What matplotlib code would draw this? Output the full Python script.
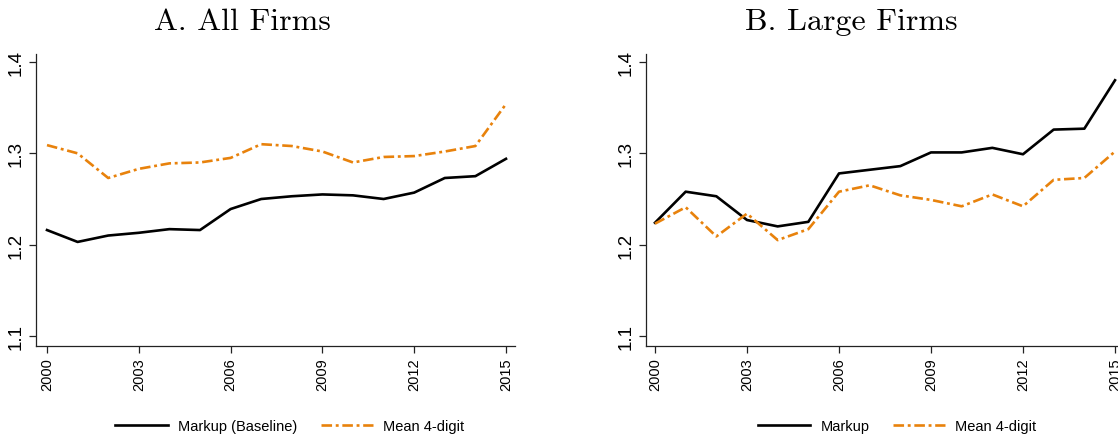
import matplotlib
matplotlib.use('Agg')
import matplotlib.pyplot as plt

years = list(range(2000, 2016))

# panel A: all firms
markup_all = [1.216, 1.203, 1.210, 1.213, 1.217, 1.216, 1.239, 1.250,
              1.253, 1.255, 1.254, 1.250, 1.257, 1.273, 1.275, 1.294]
mean4_all = [1.309, 1.300, 1.273, 1.283, 1.289, 1.290, 1.295, 1.310,
             1.308, 1.302, 1.290, 1.296, 1.297, 1.302, 1.308, 1.354]

# panel B: large firms
markup_large = [1.224, 1.258, 1.253, 1.227, 1.220, 1.225, 1.278, 1.282,
                1.286, 1.301, 1.301, 1.306, 1.299, 1.326, 1.327, 1.380]
mean4_large = [1.223, 1.241, 1.209, 1.234, 1.205, 1.217, 1.258, 1.265,
               1.254, 1.249, 1.242, 1.255, 1.242, 1.271, 1.273, 1.302]

xticks = [2000, 2003, 2006, 2009, 2012, 2015]
yticks = [1.1, 1.2, 1.3, 1.4]

W, H = 1118, 435
ORANGE = '#e8820c'
DASHDOT = (0, (4, 1.4, 1.1, 1.4))

plt.rcParams['font.family'] = ['Liberation Sans', 'DejaVu Sans']


def px_axes(fig, x0, x1, ytop, ybot):
    return fig.add_axes([x0 / W, 1 - ybot / H, (x1 - x0) / W, (ybot - ytop) / H])


def style(ax, x0px, x2000, x2015, x1px):
    per = (x2015 - x2000) / 15.0
    ax.set_xlim(2000 - (x2000 - x0px) / per, 2015 + (x1px - x2015) / per)
    # 1.4 at y=63, 1.1 at y=337, axes from 55 to 347
    pery = (337 - 63) / 0.3
    ax.set_ylim(1.1 - (347 - 337) / pery, 1.4 + (63 - 55) / pery)
    ax.set_xticks(xticks)
    ax.set_yticks(yticks)
    ax.set_yticklabels(['1.1', '1.2', '1.3', '1.4'], rotation=90, va='center', fontsize=13.5)
    ax.set_xticklabels([str(x) for x in xticks], rotation=90, fontsize=10.5)
    ax.tick_params(axis='both', length=5, width=0.9, color='#222222', pad=3)
    ax.spines['top'].set_visible(False)
    ax.spines['right'].set_visible(False)
    for s in ['left', 'bottom']:
        ax.spines[s].set_linewidth(0.9)
        ax.spines[s].set_color('#222222')


fig = plt.figure(figsize=(W / 100, H / 100), dpi=100)

axA = px_axes(fig, 36, 515, 55, 347)
style(axA, 36, 47, 506, 515)
lA1, = axA.plot(years, markup_all, color='black', lw=1.9)
lA2, = axA.plot(years, mean4_all, color=ORANGE, lw=1.9, linestyle=DASHDOT)

axB = px_axes(fig, 646, 1130, 55, 347)
style(axB, 646, 655, 1115, 1130)
lB1, = axB.plot(years, markup_large, color='black', lw=1.9)
lB2, = axB.plot(years, mean4_large, color=ORANGE, lw=1.9, linestyle=DASHDOT)

fig.text(242 / W, 1 - 22 / H, 'A. All Firms', fontfamily='cmr10', fontsize=23,
         ha='center', va='center')
fig.text(851 / W, 1 - 22 / H, 'B. Large Firms', fontfamily='cmr10', fontsize=23,
         ha='center', va='center')

fig.legend([lA1, lA2], ['Markup (Baseline)', 'Mean 4-digit'], loc='center',
           bbox_to_anchor=(290 / W, 1 - 427 / H), ncol=2, frameon=False,
           fontsize=10.5, handlelength=3.6, handletextpad=0.7, columnspacing=1.6)
fig.legend([lB1, lB2], ['Markup', 'Mean 4-digit'], loc='center',
           bbox_to_anchor=(897 / W, 1 - 427 / H), ncol=2, frameon=False,
           fontsize=10.5, handlelength=3.6, handletextpad=0.7, columnspacing=1.6)

fig.savefig('out.png', dpi=100)
